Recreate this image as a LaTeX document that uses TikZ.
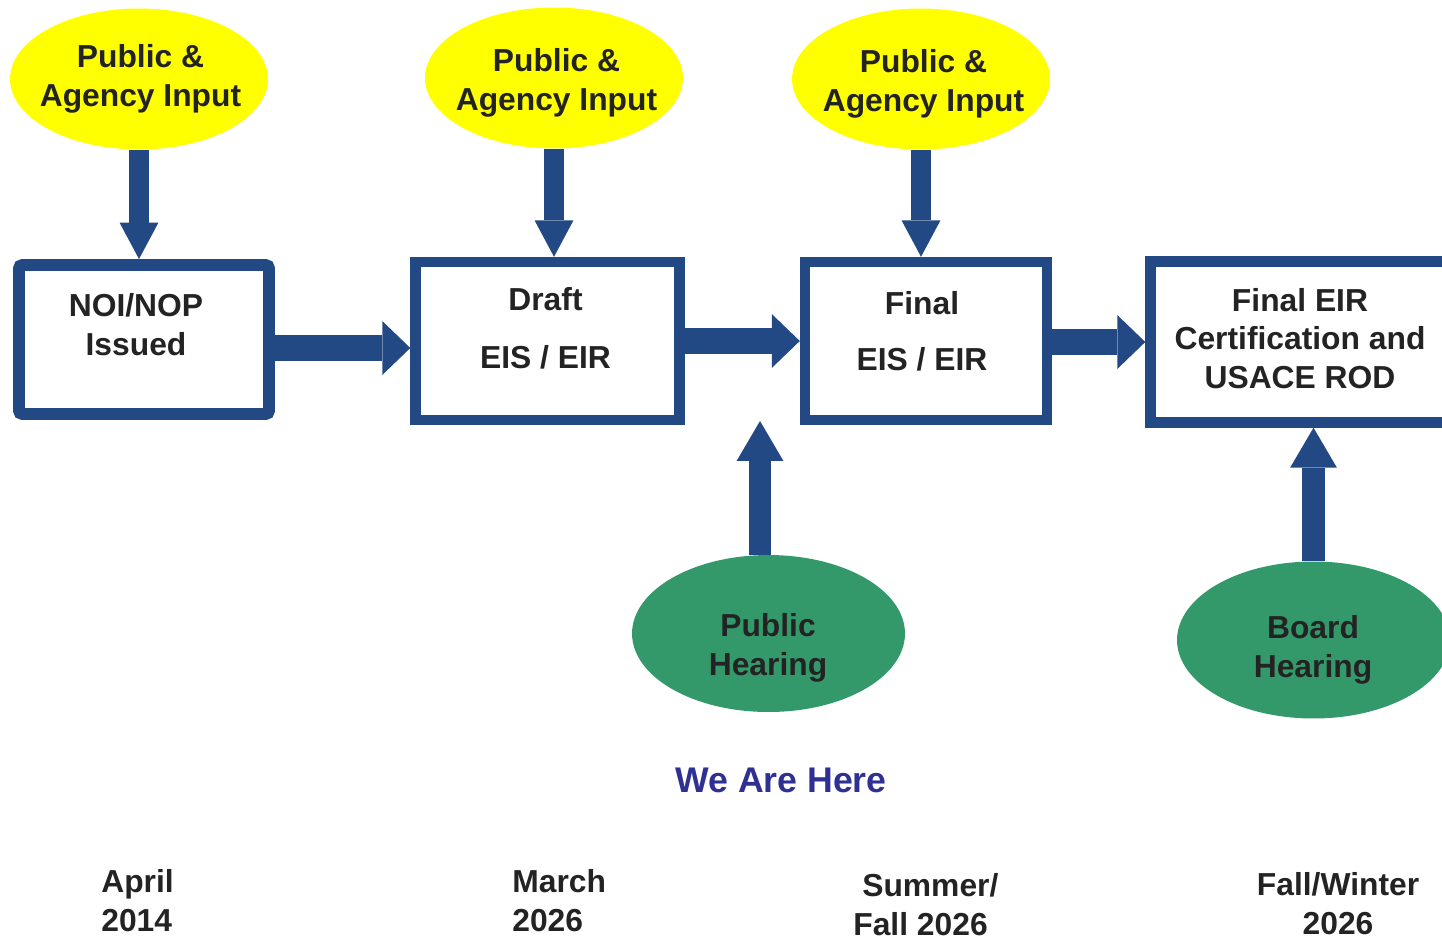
\documentclass[tikz,border=0pt]{standalone}
\usepackage{fontspec}
\setmainfont{Liberation Sans}
\usetikzlibrary{shapes.geometric,arrows.meta}

\definecolor{flowblue}{RGB}{34,73,132}
\definecolor{inputyellow}{RGB}{255,255,0}
\definecolor{hearinggreen}{RGB}{52,153,106}
\definecolor{heretext}{RGB}{46,49,146}
\definecolor{labeltext}{RGB}{35,35,35}

\tikzset{
  every node/.style={font=\fontsize{18.1}{21.8}\selectfont\bfseries, text=labeltext},
  stage/.style={draw=flowblue, line width=5.95pt, fill=white, inner sep=0pt},
  inputbubble/.style={ellipse, fill=inputyellow, minimum width=5.16cm, minimum height=2.82cm, inner sep=0pt},
  hearing/.style={ellipse, fill=hearinggreen, minimum width=5.46cm, minimum height=3.14cm, inner sep=0pt},
  steptext/.style={align=center, anchor=base, inner sep=0pt},
  downarrow/.style={draw=flowblue, line width=11pt, -{Triangle[width=22.1pt,length=20.7pt,line width=0pt]}},
  uparrow/.style={draw=flowblue, line width=13pt, -{Triangle[width=26.6pt,length=22.7pt,line width=0pt]}},
  fwdarrow/.style={draw=flowblue, line width=15.3pt, -{Triangle[width=30.6pt,length=15.9pt,line width=0pt]}},
}

\begin{document}
\begin{tikzpicture}[x=0.02cm,y=-0.02cm]
\useasboundingbox (0,0) rectangle (1442,940);
\clip (0,0) rectangle (1442,940);

% input bubbles
\node[inputbubble] (in1) at (139,79) {};
\node[inputbubble] (in2) at (554,78) {};
\node[inputbubble] (in3) at (921,79) {};
\node[steptext] (in1txt) at (140.5,106) {Public \&\\Agency Input};
\node[steptext] (in2txt) at (556.5,110) {Public \&\\Agency Input};
\node[steptext] (in3txt) at (923.5,111) {Public \&\\Agency Input};

% stages
\node[stage, line width=6.8pt, rounded corners=2pt, minimum width=5cm, minimum height=2.98cm] (noi) at (144,339.5) {};
\node[stage, minimum width=5.28cm, minimum height=3.16cm] (draft) at (547.5,341) {};
\node[stage, minimum width=4.84cm, minimum height=3.16cm] (final) at (926,341) {};
\node[stage, minimum width=6.4cm, minimum height=3.22cm] (cert) at (1310.5,342) {};

\node[steptext] (noitxt) at (136,355) {NOI/NOP\\Issued};
\node[steptext] (drafttxt) at (545.5,368) {Draft\\[11pt]EIS / EIR};
\node[steptext] (finaltxt) at (922,370) {Final\\[10pt]EIS / EIR};
\node[steptext] (certtxt) at (1300,388) {Final EIR\\Certification and\\USACE ROD};

% hearings
\node[hearing] (hear1) at (768.5,633.5) {};
\node[hearing] (hear2) at (1313.5,640) {};
\node[steptext] (hear1txt) at (768,675) {Public\\Hearing};
\node[steptext] (hear2txt) at (1313,677) {Board\\Hearing};

\node[anchor=base, font=\fontsize{20.3}{24}\selectfont\bfseries, text=heretext] (here) at (781,792) {We Are Here};

% dates
\node[steptext, align=left, anchor=base west] (d1) at (101,931) {April\\2014};
\node[steptext, align=left, anchor=base west] (d2) at (512,931) {March\\2026};
\node[steptext, align=left, anchor=base west] (d3) at (853,935) {\hspace{5.1pt}Summer/\\Fall 2026};
\node[steptext] (d4) at (1338,934) {Fall/Winter\\2026};

% connectors
\draw[downarrow] (in1.south) -- (in1.south |- noi.north);
\draw[downarrow] (in2.south) -- (in2.south |- draft.north);
\draw[downarrow] (in3.south) -- (in3.south |- final.north);

\draw[fwdarrow] (noi.east |- 0,348) -- (draft.west |- 0,348);
\draw[fwdarrow] (draft.east |- 0,341) -- (final.west |- 0,341);
\draw[fwdarrow] (final.east |- 0,342) -- (cert.west |- 0,342);

\coordinate (hearin) at (760,421);
\draw[uparrow] (hear1.north -| hearin) -- (hearin);
\draw[uparrow] (hear2.north) -- (hear2.north |- cert.south);
\end{tikzpicture}
\end{document}
